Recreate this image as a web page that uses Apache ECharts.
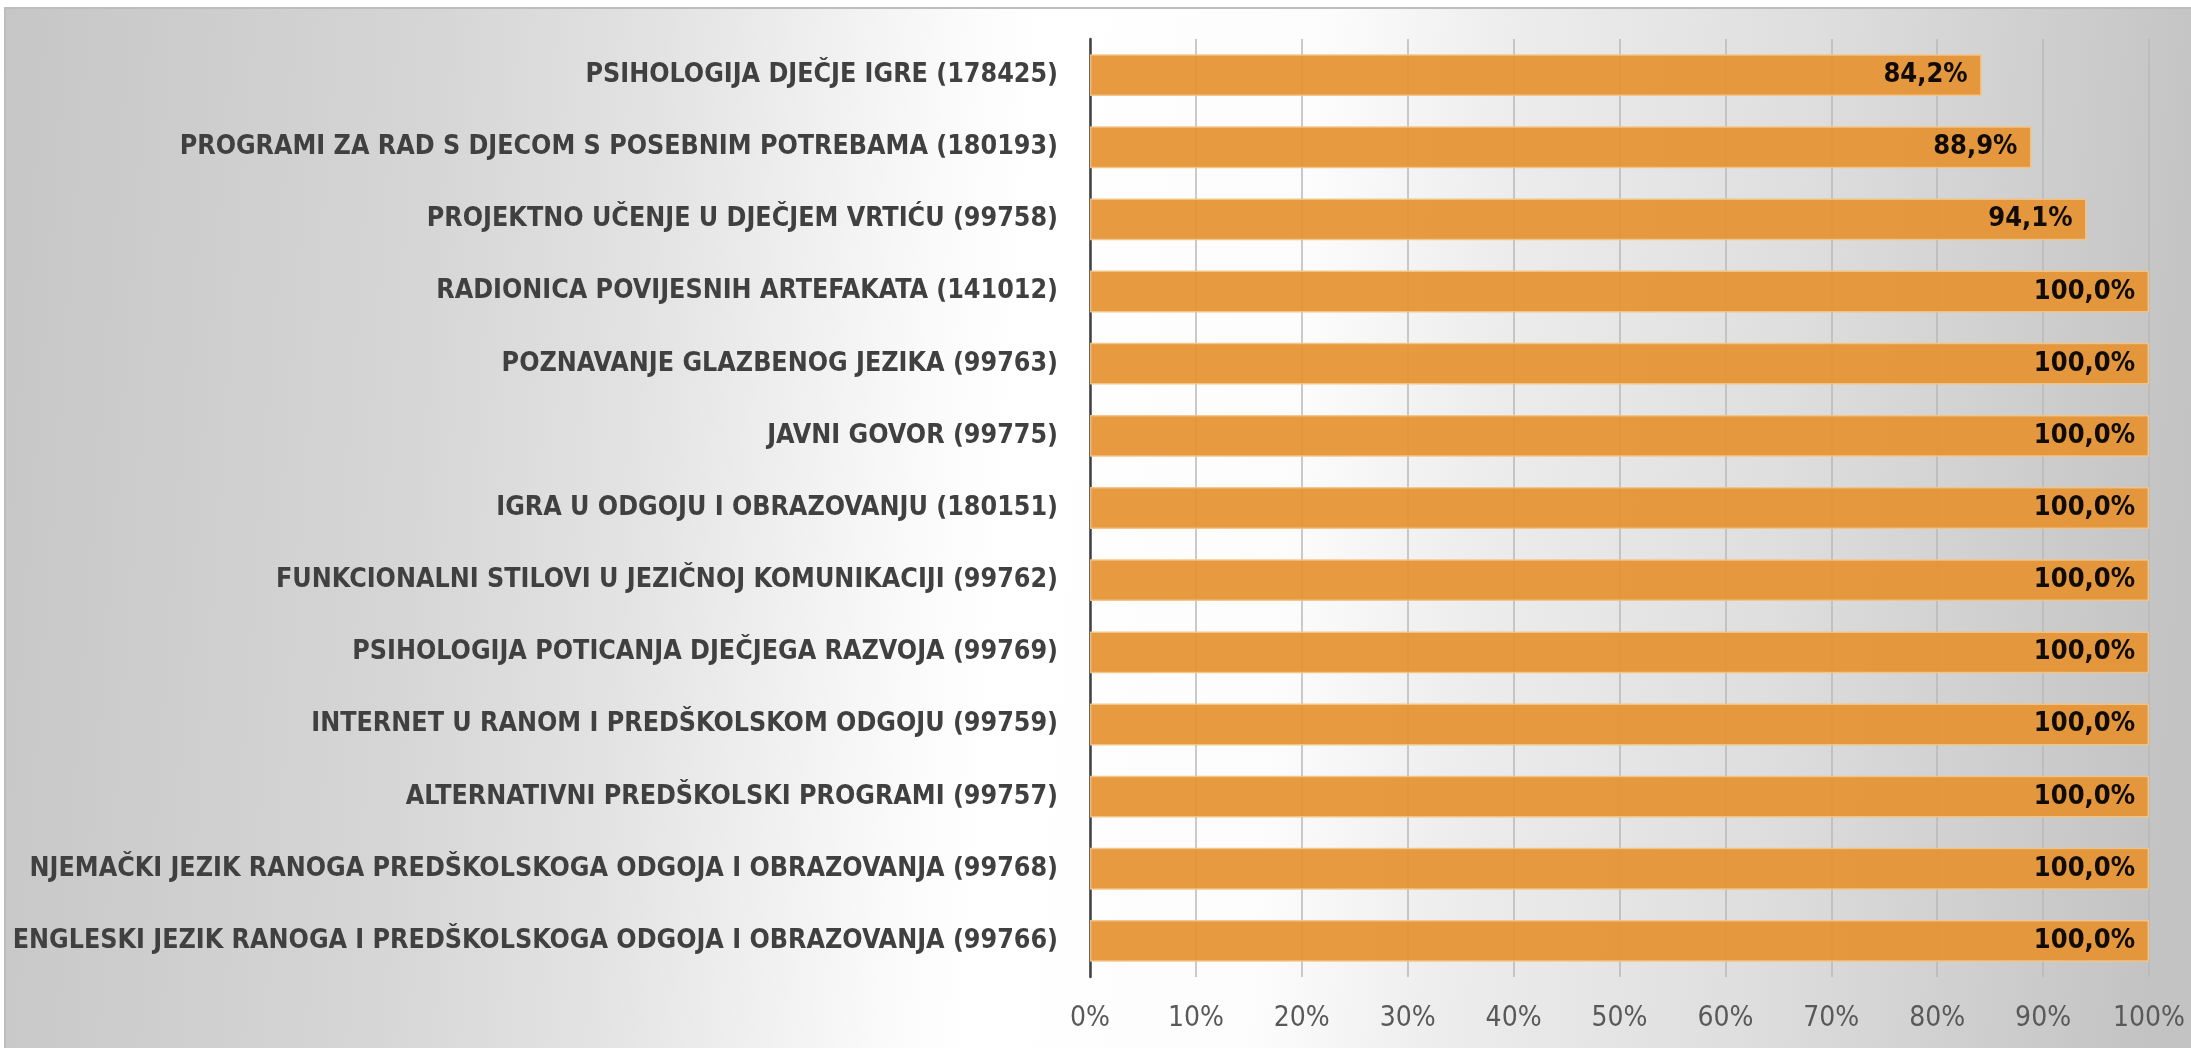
<!DOCTYPE html>
<html>
<head>
<meta charset="utf-8">
<script src="https://cdn.jsdelivr.net/npm/echarts@6/dist/echarts.min.js"></script>
<style>
    html, body { margin: 0; padding: 0; background: #ffffff; }
    #chart { width: 2191px; height: 1048px; }
</style>
</head>
<body>
<div id="chart"></div>
<script>
// kategorije (od vrha prema dnu)
var categories = [
    'PSIHOLOGIJA DJEČJE IGRE (178425)',
    'PROGRAMI ZA RAD S DJECOM S POSEBNIM POTREBAMA (180193)',
    'PROJEKTNO UČENJE U DJEČJEM VRTIĆU (99758)',
    'RADIONICA POVIJESNIH ARTEFAKATA (141012)',
    'POZNAVANJE GLAZBENOG JEZIKA (99763)',
    'JAVNI GOVOR (99775)',
    'IGRA U ODGOJU I OBRAZOVANJU (180151)',
    'FUNKCIONALNI STILOVI U JEZIČNOJ KOMUNIKACIJI (99762)',
    'PSIHOLOGIJA POTICANJA DJEČJEGA RAZVOJA (99769)',
    'INTERNET U RANOM I PREDŠKOLSKOM ODGOJU (99759)',
    'ALTERNATIVNI PREDŠKOLSKI PROGRAMI (99757)',
    'NJEMAČKI JEZIK RANOGA PREDŠKOLSKOGA ODGOJA I OBRAZOVANJA (99768)',
    'ENGLESKI JEZIK RANOGA I PREDŠKOLSKOGA ODGOJA I OBRAZOVANJA (99766)'
];
// udio u postocima
var values = [84.2, 88.9, 94.1, 100, 100, 100, 100, 100, 100, 100, 100, 100, 100];
// oznake osi x
var xTicks = [0, 10, 20, 30, 40, 50, 60, 70, 80, 90, 100];

var labelFont = "'Liberation Sans Narrow', 'DejaVu Sans Condensed', sans-serif";

var myChart = echarts.init(document.getElementById('chart'));

var option = {
    backgroundColor: '#ffffff',
    animation: false,
    // pozadina s gradijentom (sivo - bijelo - sivo) i okvirom
    graphic: [{
        type: 'rect',
        z: -10,
        silent: true,
        shape: { x: 5, y: 8, width: 2200, height: 1050 },
        style: {
            fill: {
                type: 'linear',
                x: 0, y: 0, x2: 1, y2: 0.15,
                colorStops: [
                    { offset: 0, color: '#c6c6c6' },
                    { offset: 0.2, color: '#d6d6d6' },
                    { offset: 0.3, color: '#e3e3e3' },
                    { offset: 0.43, color: '#fafafa' },
                    { offset: 0.47, color: '#ffffff' },
                    { offset: 0.6, color: '#fcfcfc' },
                    { offset: 0.68, color: '#ededed' },
                    { offset: 0.82, color: '#dedede' },
                    { offset: 1, color: '#c3c3c3' }
                ]
            },
            stroke: '#bdbdbd',
            lineWidth: 2
        }
    }],
    grid: {
        left: 1090,
        right: 42,
        top: 39,
        bottom: 71
    },
    xAxis: {
        type: 'value',
        min: xTicks[0],
        max: xTicks[xTicks.length - 1],
        interval: 10,
        axisLine: { show: false },
        axisTick: { show: false },
        splitLine: { lineStyle: { color: '#b8b8b8', width: 1.5 } },
        axisLabel: {
            margin: 28,
            color: '#595959',
            fontSize: 28,
            fontFamily: labelFont,
            formatter: function (v) { return v + '%'; }
        }
    },
    yAxis: {
        type: 'category',
        inverse: true,
        data: categories,
        axisLine: { lineStyle: { color: '#404040', width: 2.5 } },
        axisTick: { show: false },
        axisLabel: {
            margin: 32,
            color: '#404040',
            fontSize: 26.6,
            fontWeight: 'bold',
            fontFamily: labelFont
        }
    },
    series: [{
        type: 'bar',
        data: values,
        barWidth: '58%',
        itemStyle: {
            color: '#e59232',
            opacity: 0.93,
            borderColor: '#f3c486',
            borderWidth: 1.5
        },
        label: {
            show: true,
            position: 'insideRight',
            distance: 14,
            color: '#000000',
            fontSize: 27,
            fontWeight: 'bold',
            fontFamily: labelFont,
            formatter: function (p) { return p.value.toFixed(1).replace('.', ',') + '%'; }
        }
    }]
};

myChart.setOption(option);
</script>
</body>
</html>
